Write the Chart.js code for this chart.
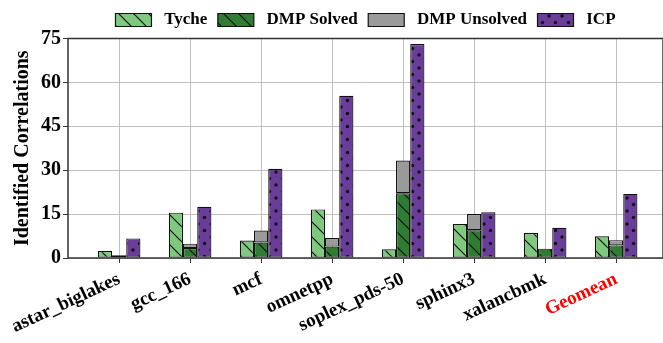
<!DOCTYPE html>
<html>
<head>
<meta charset="utf-8">
<script src="https://cdn.jsdelivr.net/npm/chart.js@4.4.0/dist/chart.umd.min.js"></script>
<style>
  html, body { margin: 0; padding: 0; background: #fff; overflow: hidden; }
  #wrap { width: 663px; height: 343px; }
</style>
</head>
<body>
<div id="wrap"><canvas id="chart"></canvas></div>
<script>
// Datos
const categories = ['astar_biglakes', 'gcc_166', 'mcf', 'omnetpp', 'soplex_pds-50', 'sphinx3', 'xalancbmk', 'Geomean'];
const tyche       = [2.4, 15.5, 6.0, 16.6, 3.0, 11.6, 8.5, 7.4];
const dmpSolved   = [0.7, 3.4, 5.3, 3.9, 22.1, 9.5, 3.2, 4.3];
const dmpUnsolved = [0.2, 1.5, 4.1, 2.9, 11.2, 5.5, 0.0, 1.8];
const icp         = [6.7, 17.5, 30.5, 55.4, 73.1, 15.6, 10.3, 21.9];
const yTicks      = [0, 15, 30, 45, 60, 75];

const FONT = "'Liberation Serif', 'Times New Roman', serif";

// ─── Patrones (hatch) ─────────────────────────────────────

function hatchPattern(bg) {
  const s = 15;
  const c = document.createElement('canvas');
  c.width = s; c.height = s;
  const g = c.getContext('2d');
  g.fillStyle = bg;
  g.fillRect(0, 0, s, s);
  g.strokeStyle = '#111';
  g.lineWidth = 1.2;
  g.beginPath();
  g.moveTo(-2, -2); g.lineTo(s + 2, s + 2);
  g.moveTo(-2, s - 2); g.lineTo(2, s + 2);
  g.moveTo(s - 2, -2); g.lineTo(s + 2, 2);
  g.stroke();
  return g.createPattern(c, 'repeat');
}

function dotPattern(bg) {
  const s = 13;
  const c = document.createElement('canvas');
  c.width = s; c.height = s;
  const g = c.getContext('2d');
  g.fillStyle = bg;
  g.fillRect(0, 0, s, s);
  g.fillStyle = '#111';
  [[3, 3], [9.5, 9.5]].forEach(([x, y]) => {
    g.beginPath();
    g.arc(x, y, 1.7, 0, Math.PI * 2);
    g.fill();
  });
  return g.createPattern(c, 'repeat');
}

const toPoints = arr => arr.map((v, i) => ({ x: i, y: v }));

const frame = {
  id: 'frame',
  afterDatasetsDraw(chart) {
    const { ctx, chartArea: a } = chart;
    ctx.save();
    ctx.strokeStyle = '#333';
    ctx.lineWidth = 1.5;
    ctx.strokeRect(a.left, a.top, a.right - a.left, a.bottom - a.top);
    ctx.restore();
  }
};

const barBase = { borderColor: '#111', borderWidth: 1.2, borderSkipped: false };

const gridOpts = {
  color: '#b0b0b0',
  borderDash: [3, 3],
  lineWidth: 0.8,
  tickColor: '#333',
  tickBorderDash: [],
  tickLength: 5,
  tickWidth: 1
};

new Chart(document.getElementById('chart'), {
  type: 'bar',
  data: {
    datasets: [
      { ...barBase, label: 'Tyche', data: toPoints(tyche), stack: 't', backgroundColor: hatchPattern('#7fc97f') },
      { ...barBase, label: 'DMP Solved', data: toPoints(dmpSolved), stack: 'd', backgroundColor: hatchPattern('#2e7d32') },
      { ...barBase, label: 'DMP Unsolved', data: toPoints(dmpUnsolved), stack: 'd', backgroundColor: '#9a9a9a' },
      { ...barBase, label: 'ICP', data: toPoints(icp), stack: 'i', backgroundColor: dotPattern('#6a3d9a') }
    ]
  },
  plugins: [frame],
  options: {
    responsive: true,
    maintainAspectRatio: false,
    animation: false,
    categoryPercentage: 0.6,
    barPercentage: 1.0,
    layout: { padding: { top: 1, right: 0, left: 0, bottom: 0 } },
    plugins: {
      legend: {
        position: 'top',
        fullSize: false,
        labels: {
          color: '#000',
          font: { family: FONT, size: 17, weight: 'bold' },
          boxWidth: 36,
          boxHeight: 13,
          padding: 10.5,
          generateLabels(chart) {
            const items = Chart.defaults.plugins.legend.labels.generateLabels(chart);
            items.forEach(it => { it.text = ' ' + it.text; });
            return items;
          }
        }
      },
      tooltip: { enabled: false }
    },
    scales: {
      x: {
        type: 'linear',
        stacked: true,
        offset: false,
        bounds: 'data',
        min: -0.72,
        max: 7.66,
        afterBuildTicks(scale) {
          scale.ticks = categories.map((_, i) => ({ value: i }));
        },
        afterFit(scale) { scale.height = 85; },
        ticks: {
          callback: v => categories[v],
          color: ctx => (ctx.index === 7 ? '#ff0000' : '#000'),
          font: { family: FONT, size: 19, weight: 'bold' },
          minRotation: 25,
          maxRotation: 25,
          padding: 5
        },
        grid: { ...gridOpts, offset: false },
        border: { display: false }
      },
      y: {
        stacked: true,
        min: 0,
        max: 75,
        afterBuildTicks(scale) {
          scale.ticks = yTicks.map(v => ({ value: v }));
        },
        afterFit(scale) { scale.width = 68; },
        ticks: {
          color: '#000',
          font: { family: FONT, size: 20, weight: 'bold' },
          padding: 2
        },
        title: {
          display: true,
          text: 'Identified Correlations',
          color: '#000',
          font: { family: FONT, size: 20, weight: 'bold' },
          padding: { top: 11, bottom: 2 }
        },
        grid: gridOpts,
        border: { display: false }
      }
    }
  }
});
</script>
</body>
</html>
